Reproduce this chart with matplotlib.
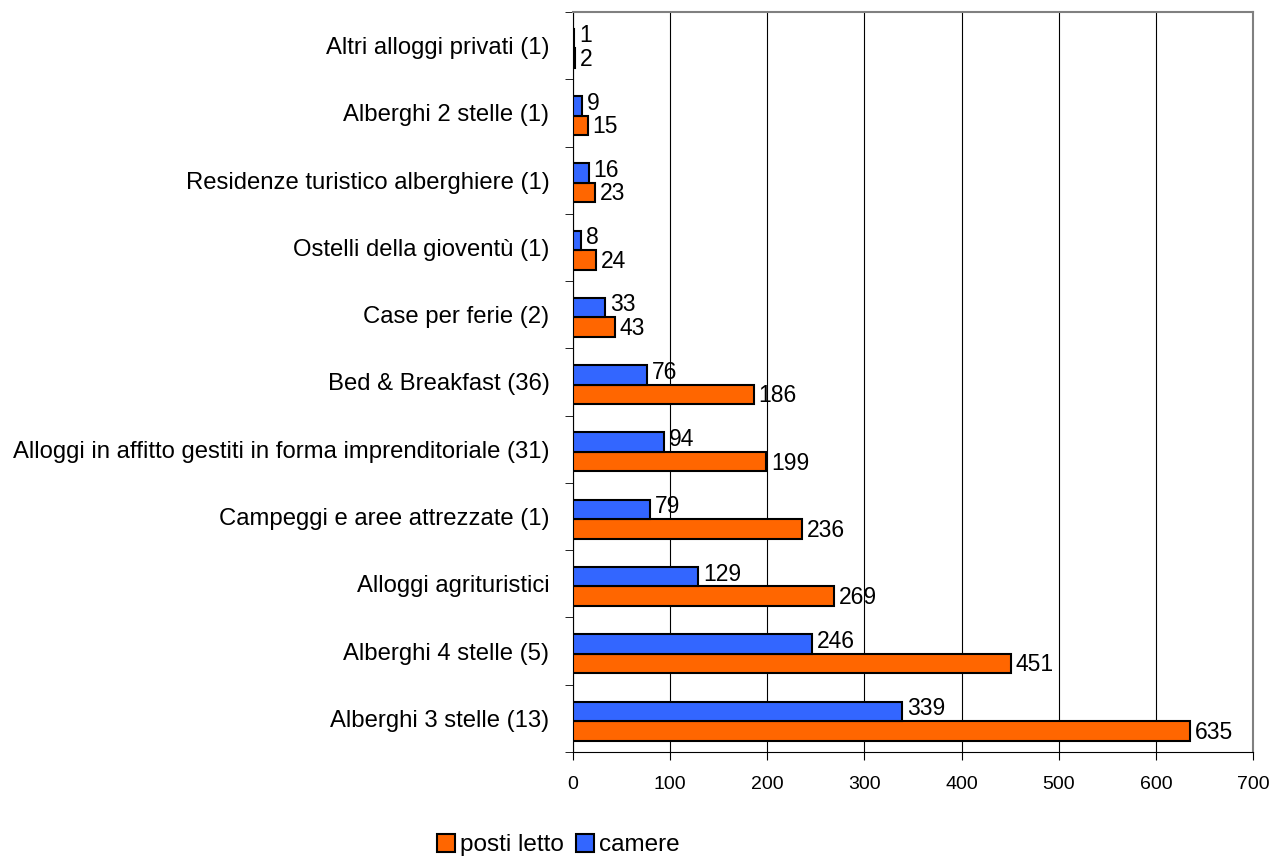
import numpy as np
import matplotlib.pyplot as plt

plt.rcParams['font.family'] = ['Liberation Sans', 'DejaVu Sans']

# categories from bottom to top
categorie = ['Alberghi 3 stelle (13)', 'Alberghi 4 stelle (5)', 'Alloggi agrituristici',
             'Campeggi e aree attrezzate (1)',
             'Alloggi in affitto gestiti in forma imprenditoriale (31)',
             'Bed & Breakfast (36)', 'Case per ferie (2)', 'Ostelli della gioventù (1)',
             'Residenze turistico alberghiere (1)', 'Alberghi 2 stelle (1)',
             'Altri alloggi privati (1)']
posti_letto = [635, 451, 269, 236, 199, 186, 43, 24, 23, 15, 2]
camere = [339, 246, 129, 79, 94, 76, 33, 8, 16, 9, 1]

fig = plt.figure(figsize=(12.77, 8.59), dpi=100)
ax = fig.add_axes([0.4487, 0.1246, 0.5325, 0.8614])

y = np.arange(len(categorie))
h = 0.29
b1 = ax.barh(y - h / 2 - 0.04, posti_letto, height=h, color='#FF6600',
             edgecolor='black', linewidth=1.5, label='posti letto', zorder=3)
b2 = ax.barh(y + h / 2 - 0.04, camere, height=h, color='#3366FF',
             edgecolor='black', linewidth=1.5, label='camere', zorder=3)

# etichette valori: camere un po' sopra, posti letto un po' sotto
for bars, vals, dy in [(b1, posti_letto, -0.02), (b2, camere, 0.04)]:
    for r, v in zip(bars, vals):
        ax.text(r.get_width() + 5, r.get_y() + r.get_height() / 2 + dy, str(v),
                va='center', ha='left', fontsize=16.5)

ax.set_xlim(0, 700)
ax.set_ylim(-0.5, len(categorie) - 0.5)
ax.set_xticks(np.arange(0, 701, 100))
ax.set_yticks(y)
ax.set_yticklabels(categorie, fontsize=17.2)
ax.set_yticks(np.arange(-0.5, len(categorie), 1), minor=True)
ax.tick_params(axis='y', which='major', length=0, pad=17)
ax.tick_params(axis='y', which='minor', length=6, direction='out')
ax.tick_params(axis='x', length=6, labelsize=14, pad=11)
ax.grid(axis='x', color='black', linewidth=0.8, zorder=0)

ax.spines['top'].set_color('#808080')
ax.spines['right'].set_color('#808080')
ax.spines['top'].set_linewidth(1.5)
ax.spines['right'].set_linewidth(1.5)

leg = fig.legend(handles=[b1, b2], loc='center', bbox_to_anchor=(0.437, 0.016), ncol=2,
                 frameon=False, fontsize=17.5, handlelength=0.75, handleheight=0.75,
                 handletextpad=0.2, columnspacing=0.5)

fig.savefig('out.png', dpi=100)
